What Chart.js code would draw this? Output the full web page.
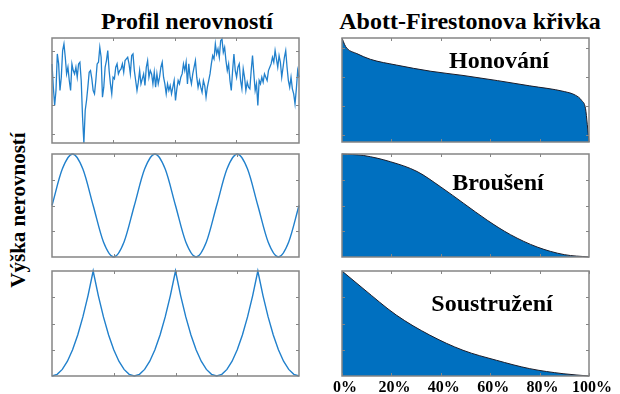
<!DOCTYPE html>
<html>
<head>
<meta charset="utf-8">
<script src="https://cdn.jsdelivr.net/npm/chart.js@4.4.0/dist/chart.umd.min.js"></script>
<style>
  body { margin: 0; width: 620px; height: 394px; background: #fff; position: relative; overflow: hidden; font-family: "Liberation Serif", "Times New Roman", serif; }
  .t { position: absolute; font-weight: bold; color: #000; white-space: nowrap; transform: translate(-50%, 0); }
  canvas { position: absolute; }
</style>
</head>
<body>
<div class="t" style="left:187px;top:8px;font-size:24px">Profil nerovností</div>
<div class="t" style="left:470px;top:8px;font-size:24px">Abott-Firestonova křivka</div>
<div class="t" style="left:18px;top:210px;font-size:21px;transform:translate(-50%,-50%) rotate(-90deg)">Výška nerovností</div>

<canvas id="c1"></canvas>
<canvas id="c2"></canvas>
<canvas id="c3"></canvas>
<canvas id="c4"></canvas>
<canvas id="c5"></canvas>
<canvas id="c6"></canvas>

<div class="t" style="left:499px;top:47px;font-size:24px">Honování</div>
<div class="t" style="left:498px;top:169px;font-size:24px">Broušení</div>
<div class="t" style="left:492px;top:290px;font-size:24px">Soustružení</div>

<script>
// profil nerovnosti - honovani (vyska)
var roughY = [238,168,113,158,268,238,158,198,278,298,258,208,228,188,158,238,218,208,228,198,
  238,243,188,78,0,98,128,168,213,218,193,158,148,188,238,243,288,258,138,168,
  228,248,278,218,178,148,198,193,228,238,208,218,223,238,213,248,253,258,238,208,
  263,268,218,188,158,183,218,178,193,208,173,228,248,198,218,208,178,213,168,208,
  178,198,228,243,198,178,148,178,158,173,148,168,188,128,163,188,178,198,208,238,
  218,243,178,238,198,178,208,228,248,198,168,188,168,153,188,173,138,168,188,208,
  238,263,253,298,268,283,258,308,313,273,288,248,218,238,188,158,218,268,218,198,
  228,238,188,163,223,198,158,183,168,163,218,263,208,158,178,113,188,178,198,183,
  208,198,188,218,228,238,258,243,278,253,228,263,243,198,228,258,278,228,188,168,
  198,163,148,118,163,218,198];

// brouseni - sinus
var sineY = [0.5,0.854,1,0.854,0.5,0.146,0,0.146,
  0.5,0.854,1,0.854,0.5,0.146,0,0.146,
  0.5,0.854,1,0.854,0.5,0.146,0,0.146,0.5];

// soustruzeni - oblouky
var turnY = [0,0.016,0.063,0.141,0.25,0.391,0.563,0.766,1,0.766,0.563,0.391,0.25,0.141,0.063,0.016,
  0,0.016,0.063,0.141,0.25,0.391,0.563,0.766,1,0.766,0.563,0.391,0.25,0.141,0.063,0.016,
  0,0.016,0.063,0.141,0.25,0.391,0.563,0.766,1,0.766,0.563,0.391,0.25,0.141,0.063,0.016,0];

// Abbott-Firestone krivky (% delky, % hloubky)
var honX = [0,1,2,6,11.5,22,36,49,63,76,90,94.5,97,98.6,99.3,100];
var honY = [100,94,90,85,79.5,74,68,64,59,54,48.5,45,40,32,17,0];
var grindX = [0,8.8,19.6,30.4,40,49.3,58.8,68.2,79,90,100];
var grindY = [100,98.5,92.5,83,68,52,35.7,21.7,9.7,2.3,0];
var turnAX = [0,8.5,22,35.5,49,62.5,76,89.5,100];
var turnAY = [100,83.4,58,39,24.5,15,7,2.2,0];

var pctTicks = [0,20,40,60,80,100];
var pctLabels = ['0%','20%','40%','60%','80%','100%'];

function pts(xs, ys) {
  return ys.map(function (v, i) { return { x: xs ? xs[i] : i, y: v }; });
}

// ramecek a tick znacky dovnitr (jako matlab)
var frame = {
  id: 'frame',
  afterDatasetsDraw: function (chart, args, o) {
    var a = chart.chartArea, ctx = chart.ctx;
    var sx = chart.scales.x, sy = chart.scales.y;
    ctx.save();
    ctx.strokeStyle = '#858585';
    ctx.lineWidth = 1.5;
    ctx.strokeRect(a.left, a.top, a.right - a.left, a.bottom - a.top);
    ctx.lineWidth = 1;
    ctx.beginPath();
    (o.xt || []).forEach(function (v) {
      var px = Math.round(sx.getPixelForValue(v)) + 0.5;
      ctx.moveTo(px, a.bottom); ctx.lineTo(px, a.bottom - 3);
      ctx.moveTo(px, a.top); ctx.lineTo(px, a.top + 3);
    });
    (o.yt || []).forEach(function (v) {
      var py = Math.round(sy.getPixelForValue(v)) + 0.5;
      ctx.moveTo(a.left, py); ctx.lineTo(a.left + 3, py);
      ctx.moveTo(a.right, py); ctx.lineTo(a.right - 3, py);
    });
    ctx.stroke();
    if (o.labels) {
      ctx.fillStyle = '#000';
      ctx.font = 'bold 16px "Liberation Serif"';
      ctx.textAlign = 'center';
      ctx.textBaseline = 'middle';
      (o.xt || []).forEach(function (v, i) {
        ctx.fillText(o.labels[i], sx.getPixelForValue(v) + 3, a.bottom + 12);
      });
    }
    ctx.restore();
  }
};

function panel(id, box, data, xr, yr, line, fr, extra) {
  var pad = 4, ex = extra || 0;
  var cv = document.getElementById(id);
  var w = box[2] - box[0], h = box[3] - box[1];
  cv.style.left = (box[0] - pad - ex) + 'px';
  cv.style.top = (box[1] - pad) + 'px';
  cv.width = w + 2 * pad + 2 * ex;
  cv.height = h + 2 * pad + ex;
  cv.style.width = cv.width + 'px';
  cv.style.height = cv.height + 'px';
  var ds = Object.assign({ data: data, pointRadius: 0, clip: 4 }, line);
  new Chart(cv, {
    type: 'line',
    data: { datasets: [ds] },
    options: {
      responsive: false,
      animation: false,
      layout: { padding: { left: pad + ex, top: pad, right: pad + ex, bottom: pad + ex } },
      plugins: { legend: { display: false }, tooltip: { enabled: false }, frame: fr },
      scales: {
        x: { type: 'linear', display: false, min: xr[0], max: xr[1] },
        y: { type: 'linear', display: false, min: yr[0], max: yr[1] }
      }
    },
    plugins: [frame]
  });
}

var blue = '#2180cc';
var fillBlue = '#0070c0';

panel('c1', [52, 38, 299, 143], pts(null, roughY), [0, roughY.length - 1], [0, 316],
  { borderColor: blue, borderWidth: 1.3, tension: 0 },
  { xt: [46.25, 92.5, 138.75], yt: [28, 113, 198, 276] });
panel('c2', [52, 154, 299, 257], pts(null, sineY), [0, sineY.length - 1], [0, 1],
  { borderColor: blue, borderWidth: 1.4, cubicInterpolationMode: 'monotone' },
  { xt: [6, 12, 18], yt: [0.25, 0.5, 0.75] });
panel('c3', [52, 271, 299, 376], pts(null, turnY), [0, turnY.length - 1], [0, 1],
  { borderColor: blue, borderWidth: 1.4, tension: 0 },
  { xt: [12, 24, 36], yt: [0.25, 0.5, 0.75] });

panel('c4', [342, 38, 589, 142], pts(honX, honY), [0, 100], [0, 100],
  { borderColor: '#1c1c28', borderWidth: 1, backgroundColor: fillBlue, fill: 'origin', cubicInterpolationMode: 'monotone' },
  { xt: [20, 40, 60, 80], yt: [7, 35, 62.5, 90] });
panel('c5', [342, 154, 589, 257], pts(grindX, grindY), [0, 100], [0, 100],
  { borderColor: '#1c1c28', borderWidth: 1, backgroundColor: fillBlue, fill: 'origin', cubicInterpolationMode: 'monotone' },
  { xt: [20, 40, 60, 80], yt: [25, 50, 75] });
panel('c6', [342, 271, 589, 376], pts(turnAX, turnAY), [0, 100], [0, 100],
  { borderColor: '#1c1c28', borderWidth: 1, backgroundColor: fillBlue, fill: 'origin', cubicInterpolationMode: 'monotone' },
  { xt: pctTicks, yt: [25, 50, 75], labels: pctLabels }, 22);
</script>
</body>
</html>
